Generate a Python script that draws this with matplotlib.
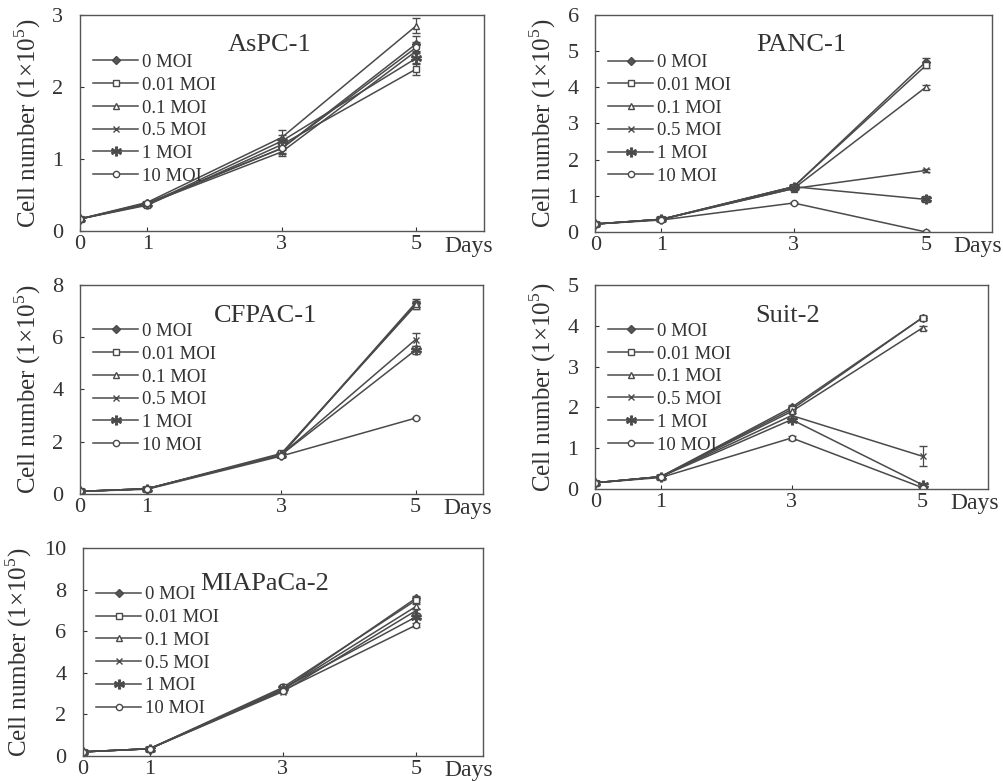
import matplotlib
matplotlib.use('Agg')
import matplotlib.pyplot as plt
from matplotlib.lines import Line2D

plt.rcParams['font.family'] = ['Liberation Serif', 'DejaVu Serif']
plt.rcParams['mathtext.fontset'] = 'custom'
plt.rcParams['mathtext.rm'] = 'Liberation Serif'

days = [0, 1, 3, 5]
doses = ['0 MOI', '0.01 MOI', '0.1 MOI', '0.5 MOI', '1 MOI', '10 MOI']
markers = ['D', 's', '^', 'x', '$*$', 'o']
fills = ['#555555', 'white', 'white', '#555555', '#555555', 'white']

# values, cell number (1x10^5)
aspc1 = [[0.17, 0.38, 1.15, 2.60],
         [0.17, 0.36, 1.20, 2.25],
         [0.17, 0.40, 1.30, 2.85],
         [0.17, 0.38, 1.10, 2.50],
         [0.17, 0.37, 1.25, 2.40],
         [0.17, 0.39, 1.15, 2.55]]
aspc1_err = [[0, 0.02, 0.08, 0.10],
             [0, 0.02, 0.08, 0.08],
             [0, 0.02, 0.10, 0.10],
             [0, 0.02, 0.06, 0.08],
             [0, 0.02, 0.08, 0.08],
             [0, 0.02, 0.06, 0.08]]

panc1 = [[0.22, 0.35, 1.25, 4.70],
         [0.22, 0.35, 1.25, 4.60],
         [0.22, 0.35, 1.20, 4.00],
         [0.22, 0.35, 1.20, 1.70],
         [0.22, 0.35, 1.25, 0.90],
         [0.22, 0.33, 0.80, 0.00]]
panc1_err = [[0, 0.02, 0.05, 0.10],
             [0, 0.02, 0.05, 0.08],
             [0, 0.02, 0.05, 0.06],
             [0, 0.02, 0.05, 0.05],
             [0, 0.02, 0.05, 0.08],
             [0, 0.02, 0.03, 0.02]]

cfpac1 = [[0.10, 0.20, 1.50, 7.30],
          [0.10, 0.20, 1.55, 7.20],
          [0.10, 0.20, 1.50, 7.25],
          [0.10, 0.20, 1.50, 5.90],
          [0.10, 0.20, 1.50, 5.50],
          [0.10, 0.18, 1.45, 2.90]]
cfpac1_err = [[0, 0.02, 0.08, 0.15],
              [0, 0.02, 0.08, 0.12],
              [0, 0.02, 0.08, 0.12],
              [0, 0.02, 0.08, 0.25],
              [0, 0.02, 0.08, 0.15],
              [0, 0.02, 0.05, 0.05]]

suit2 = [[0.15, 0.30, 2.00, 4.20],
         [0.15, 0.30, 1.95, 4.20],
         [0.15, 0.30, 1.90, 3.95],
         [0.15, 0.30, 1.80, 0.80],
         [0.15, 0.30, 1.70, 0.10],
         [0.15, 0.28, 1.25, 0.03]]
suit2_err = [[0, 0.02, 0.05, 0.05],
             [0, 0.02, 0.05, 0.05],
             [0, 0.02, 0.05, 0.05],
             [0, 0.02, 0.05, 0.25],
             [0, 0.02, 0.05, 0.05],
             [0, 0.02, 0.04, 0.02]]

miapaca2 = [[0.20, 0.35, 3.20, 7.60],
            [0.20, 0.35, 3.30, 7.50],
            [0.20, 0.35, 3.20, 7.20],
            [0.20, 0.35, 3.10, 7.00],
            [0.20, 0.35, 3.25, 6.70],
            [0.20, 0.35, 3.15, 6.30]]
miapaca2_err = [[0, 0.02, 0.08, 0.10],
                [0, 0.02, 0.08, 0.10],
                [0, 0.02, 0.08, 0.10],
                [0, 0.02, 0.08, 0.10],
                [0, 0.02, 0.08, 0.10],
                [0, 0.02, 0.08, 0.10]]

panels = [
    ('AsPC-1', aspc1, aspc1_err, 3, [0, 1, 2, 3], [0.0797, 0.704, 0.402, 0.277], (0.47, 0.86)),
    ('PANC-1', panc1, panc1_err, 6, [0, 1, 2, 3, 4, 5, 6], [0.593, 0.703, 0.395, 0.278], (0.52, 0.86)),
    ('CFPAC-1', cfpac1, cfpac1_err, 8, [0, 2, 4, 6, 8], [0.0797, 0.3675, 0.401, 0.268], (0.46, 0.85)),
    ('Suit-2', suit2, suit2_err, 5, [0, 1, 2, 3, 4, 5], [0.593, 0.374, 0.391, 0.261], (0.49, 0.85)),
    ('MIAPaCa-2', miapaca2, miapaca2_err, 10, [0, 2, 4, 6, 8, 10], [0.0827, 0.032, 0.398, 0.266], (0.455, 0.83)),
]

fig = plt.figure(figsize=(10.04, 7.81), dpi=100)
lc = '#4a4a4a'
tc = '#333333'

for name, vals, errs, ymax, yt, pos, tpos in panels:
    ax = fig.add_axes(pos)
    handles = []
    for i in range(6):
        ms = 7 if markers[i] == '$*$' else 4.5
        ax.errorbar(days, vals[i], yerr=errs[i], color=lc, lw=1.1,
                    marker=markers[i], ms=ms, mfc=fills[i], mec=lc, mew=1.0,
                    capsize=3, elinewidth=0.9)
        handles.append(Line2D([], [], color=lc, lw=1.1, marker=markers[i], ms=ms,
                              mfc=fills[i], mec=lc, mew=1.0, label=doses[i]))
    ax.set_xlim(0, 6)
    ax.set_ylim(0, ymax)
    ax.set_xticks(days)
    ax.set_yticks(yt)
    ax.tick_params(direction='in', length=3, labelsize=16, colors=tc)
    ax.tick_params(axis='y', pad=12)
    ax.tick_params(axis='x', pad=3)
    for s in ax.spines.values():
        s.set_color('#555555')
        s.set_linewidth(1.0)
    ax.set_ylabel('Cell number (1×10$^5$)', fontsize=18, color=tc, labelpad=7)
    ax.text(tpos[0], tpos[1], name, transform=ax.transAxes, ha='center', va='center',
            fontsize=19, color=tc)
    ax.text(5.42, -0.02, 'Days', transform=ax.get_xaxis_transform(), ha='left', va='top',
            fontsize=17, color=tc)
    ax.legend(handles=handles, loc='upper left', bbox_to_anchor=(0.0, 0.88), frameon=False,
              fontsize=13.5, handlelength=2.4, handletextpad=0.2, labelspacing=0.3,
              borderaxespad=0.3, labelcolor=tc)

fig.savefig('out.png', dpi=100)
